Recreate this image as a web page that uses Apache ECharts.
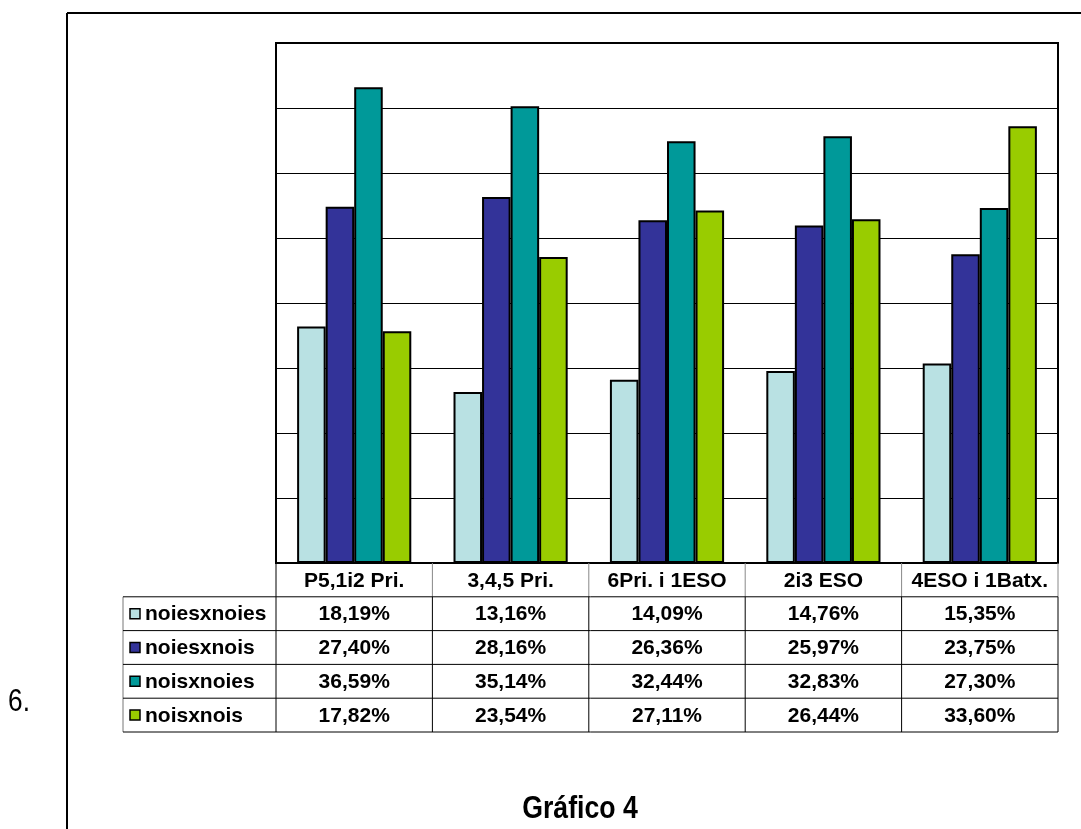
<!DOCTYPE html>
<html>
<head>
<meta charset="utf-8">
<script src="https://cdn.jsdelivr.net/npm/echarts@6/dist/echarts.min.js"></script>
<style>
  html, body { margin: 0; padding: 0; background: #fff; }
  #chart { width: 1081px; height: 829px; }
</style>
</head>
<body>
<div id="chart"></div>
<script>
// Categories (school stages) and the four pairing series, in percent
const categories = ['P5,1i2 Pri.', '3,4,5 Pri.', '6Pri. i 1ESO', '2i3 ESO', '4ESO i 1Batx.'];
const seriesNames = ['noiesxnoies', 'noiesxnois', 'noisxnoies', 'noisxnois'];
const noiesxnoies = [18.19, 13.16, 14.09, 14.76, 15.35];
const noiesxnois  = [27.40, 28.16, 26.36, 25.97, 23.75];
const noisxnoies  = [36.59, 35.14, 32.44, 32.83, 27.30];
const noisxnois   = [17.82, 23.54, 27.11, 26.44, 33.60];
const seriesValues = [noiesxnoies, noiesxnois, noisxnoies, noisxnois];
const seriesColors = ['#b9e1e3', '#333399', '#009999', '#99cc00'];
const yMin = 0, yMax = 40, yStep = 5;
const sectionLabel = '6.';
const chartTitle = 'Gráfico 4';

const GRID = { left: 276, right: 23, top: 43, bottom: 266 };
const ROW_H = 33.8;
const LEGEND_COL_LEFT = 123;
const CELL_FONT = 'bold 21px "Liberation Sans", Arial, sans-serif';
const NARROW = '"Liberation Sans Narrow", "Arial Narrow", "Liberation Sans", Arial, sans-serif';

const fmt = v => v.toFixed(2).replace('.', ',') + '%';

const chart = echarts.init(document.getElementById('chart'), null, { renderer: 'canvas' });

const baseOption = {
  animation: false,
  backgroundColor: '#fff',
  grid: {
    left: GRID.left, right: GRID.right, top: GRID.top, bottom: GRID.bottom,
    show: true, borderColor: '#000', borderWidth: 2, backgroundColor: 'transparent'
  },
  xAxis: {
    type: 'category',
    data: categories,
    axisLine: { show: false },
    axisTick: { show: false },
    axisLabel: { show: false },
    splitLine: { show: false }
  },
  yAxis: {
    type: 'value',
    min: yMin, max: yMax, interval: yStep,
    axisLine: { show: false },
    axisTick: { show: false },
    axisLabel: { show: false },
    splitLine: { show: true, lineStyle: { color: '#000', width: 1 } }
  },
  series: seriesNames.map((name, i) => ({
    name,
    type: 'bar',
    data: seriesValues[i],
    barGap: '0%',
    barCategoryGap: '27%',
    itemStyle: { color: seriesColors[i], borderColor: '#000', borderWidth: 2 }
  }))
};

chart.setOption(baseOption);

function buildGraphics() {
  const els = [];
  const W = 1081, H = 829;
  const plotBottom = H - GRID.bottom;
  const plotRight = W - GRID.right;
  const band = (plotRight - GRID.left) / categories.length;
  const centers = categories.map((c, i) => chart.convertToPixel({ xAxisIndex: 0 }, i));
  const colEdges = [GRID.left];
  centers.forEach(cx => colEdges.push(cx + band / 2));

  const headerTop = plotBottom;
  const headerBottom = headerTop + ROW_H;
  const tableBottom = headerBottom + ROW_H * seriesNames.length;

  const line = (x1, y1, x2, y2, color, width) => ({
    type: 'line', silent: true,
    shape: { x1, y1, x2, y2 },
    style: { stroke: color || '#000', lineWidth: width || 1 }
  });
  const text = (str, x, y, font, align, sx) => ({
    type: 'text', silent: true,
    x, y,
    scaleX: sx || 1,
    style: {
      text: str, x: 0, y: 0, font, fill: '#000',
      textAlign: align || 'center', textVerticalAlign: 'middle',
      align: align || 'center', verticalAlign: 'middle'
    }
  });

  // Outer frame
  els.push(line(67, 13, W, 13, '#000', 2));
  els.push(line(67, 13, 67, H, '#000', 2));

  // Table vertical lines (category columns)
  colEdges.forEach((x, i) => {
    els.push(line(x, headerTop, x, headerBottom, i === 0 ? '#000' : '#888', 1));
    els.push(line(x, headerBottom, x, tableBottom, '#000', 1));
  });
  // Legend column outline
  els.push(line(LEGEND_COL_LEFT, headerBottom, LEGEND_COL_LEFT, tableBottom, '#777', 1));
  // Horizontal row lines
  for (let r = 0; r <= seriesNames.length; r++) {
    const y = headerBottom + r * ROW_H;
    els.push(line(LEGEND_COL_LEFT, y, plotRight, y, '#000', 1));
  }

  // Header row: category names
  categories.forEach((c, i) => {
    els.push(text(c, centers[i], headerTop + ROW_H / 2 + 1, CELL_FONT));
  });

  // Body rows: legend key + values
  seriesNames.forEach((name, r) => {
    const cy = headerBottom + r * ROW_H + ROW_H / 2 + 1;
    els.push({
      type: 'rect', silent: true,
      shape: { x: 130, y: cy - 6, width: 10, height: 10 },
      style: { fill: seriesColors[r], stroke: '#000', lineWidth: 1.5 }
    });
    els.push(text(name, 145, cy, CELL_FONT, 'left'));
    seriesValues[r].forEach((v, i) => {
      els.push(text(fmt(v), centers[i], cy, CELL_FONT));
    });
  });

  // Section number and caption (condensed lettering)
  els.push(text(sectionLabel, 19, 702, '32px ' + NARROW, 'center', 0.82));
  els.push(text(chartTitle, 580, 809, 'bold 31px ' + NARROW, 'center', 0.86));

  return els;
}

chart.setOption({ graphic: { elements: buildGraphics() } });
</script>
</body>
</html>
